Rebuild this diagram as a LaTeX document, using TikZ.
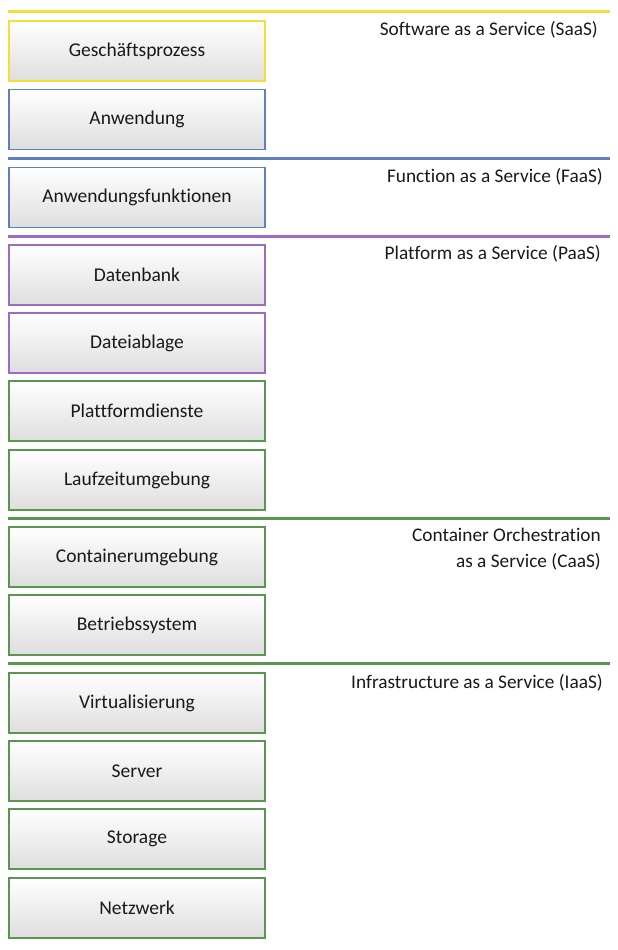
\documentclass[tikz,border=0pt]{standalone}
\usepackage{fontspec}
\setmainfont[Ligatures=NoCommon]{Carlito}
\begin{document}
\begin{tikzpicture}[x=1pt,y=-1pt,
  layerbox/.style={draw=#1, line width=1.8pt, top color=white, bottom color=black!13, minimum width=256pt, minimum height=60pt, inner sep=0pt, font=\fontsize{19.5}{23}\selectfont, text=black!90},
  sepline/.style={draw=#1, line width=3pt},
  tierlabel/.style={anchor=north east, align=right, font=\fontsize{19.3}{26}\selectfont, text=black!90, inner sep=0pt}]
\definecolor{cyel}{HTML}{F5DE3A}
\definecolor{cblu}{HTML}{5E80BE}
\definecolor{cpur}{HTML}{9E6AC4}
\definecolor{cgrn}{HTML}{5A9650}
\useasboundingbox (0,0) rectangle (618,950);
% separators
\coordinate (s1a) at (8,11.5); \coordinate (s1b) at (610,11.5);
\coordinate (s2a) at (8,158); \coordinate (s2b) at (610,158);
\coordinate (s3a) at (8,236); \coordinate (s3b) at (610,236);
\coordinate (s4a) at (8,518); \coordinate (s4b) at (610,518);
\coordinate (s5a) at (8,663.5); \coordinate (s5b) at (610,663.5);
\draw[sepline=cyel] (s1a) -- (s1b);
\draw[sepline=cblu] (s2a) -- (s2b);
\draw[sepline=cpur] (s3a) -- (s3b);
\draw[sepline=cgrn] (s4a) -- (s4b);
\draw[sepline=cgrn] (s5a) -- (s5b);
% boxes
\node[layerbox=cyel] (b1) at (137,51) {Geschäftsprozess};
\node[layerbox=cblu] (b2) at (137,119.5) {Anwendung};
\node[layerbox=cblu] (b3) at (137,197.5) {Anwendungsfunktionen};
\node[layerbox=cpur] (b4) at (137,275) {Datenbank};
\node[layerbox=cpur] (b5) at (137,343) {Dateiablage};
\node[layerbox=cgrn] (b6) at (137,411) {Plattformdienste};
\node[layerbox=cgrn] (b7) at (137,480) {Laufzeitumgebung};
\node[layerbox=cgrn] (b8) at (137,557) {Containerumgebung};
\node[layerbox=cgrn] (b9) at (137,625) {Betriebssystem};
\node[layerbox=cgrn] (b10) at (137,703) {Virtualisierung};
\node[layerbox=cgrn] (b11) at (137,771) {Server};
\node[layerbox=cgrn] (b12) at (137,839) {Storage};
\node[layerbox=cgrn] (b13) at (137,908) {Netzwerk};
% labels
\node[tierlabel] (l1) at (598,21) {Software as a Service (SaaS)};
\node[tierlabel] (l2) at (603,168) {Function as a Service (FaaS)};
\node[tierlabel] (l3) at (601,245) {Platform as a Service (PaaS)};
\node[tierlabel] (l4) at (601,528) {Container Orchestration\\as a Service (CaaS)};
\node[tierlabel] (l5) at (603,674) {Infrastructure as a Service (IaaS)};
\end{tikzpicture}
\end{document}
